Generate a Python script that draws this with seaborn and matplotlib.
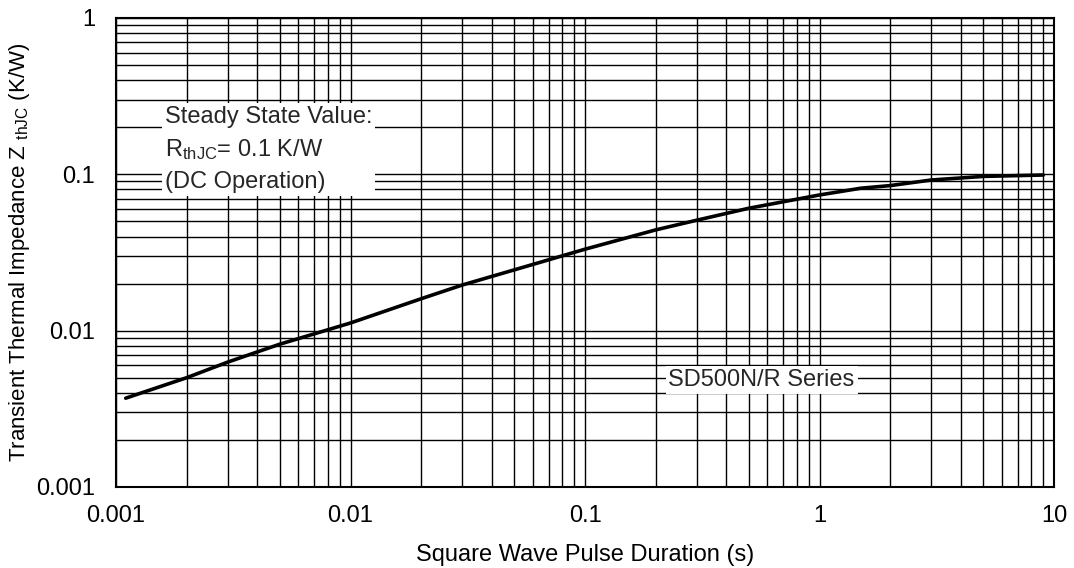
import matplotlib
matplotlib.use("Agg")
import matplotlib.pyplot as plt
import matplotlib.ticker as mticker
import pandas as pd
import seaborn as sns

# pulse duration (s) and transient thermal impedance (K/W)
pulse_s = [0.0011, 0.002, 0.003, 0.005, 0.006, 0.01, 0.02, 0.03, 0.05, 0.1,
           0.2, 0.3, 0.5, 1.0, 1.5, 2.0, 3.0, 5.0, 9.0]
zth_kw = [0.0037, 0.0050, 0.0063, 0.0082, 0.0089, 0.0112, 0.0160, 0.0196, 0.0245, 0.0332,
          0.0441, 0.0509, 0.0607, 0.0738, 0.0815, 0.0847, 0.0920, 0.0970, 0.0990]

x_ticks = [0.001, 0.01, 0.1, 1, 10]
x_tick_labels = ["0.001", "0.01", "0.1", "1", "10"]
y_ticks = [0.001, 0.01, 0.1, 1]
y_tick_labels = ["0.001", "0.01", "0.1", "1"]

FS = 17


def setup_style() -> None:
    sns.set_style("white")
    plt.rcParams["font.family"] = ["Liberation Sans", "DejaVu Sans"]
    plt.rcParams["mathtext.fontset"] = "custom"
    plt.rcParams["mathtext.rm"] = "Liberation Sans"
    plt.rcParams["mathtext.it"] = "Liberation Sans"
    plt.rcParams["mathtext.default"] = "rm"
    plt.rcParams["axes.unicode_minus"] = False


def main() -> None:
    setup_style()
    curve = pd.DataFrame({"Pulse": pulse_s, "Zth": zth_kw})

    fig = plt.figure(figsize=(10.74, 5.68), dpi=100)
    ax = fig.add_axes([116 / 1074, 1 - 487 / 568, 938 / 1074, 469 / 568])

    ax.set_xscale("log")
    ax.set_yscale("log")
    ax.set_xlim(0.001, 10)
    ax.set_ylim(0.001, 1)

    ax.xaxis.set_minor_locator(mticker.LogLocator(base=10, subs=range(2, 10), numticks=50))
    ax.yaxis.set_minor_locator(mticker.LogLocator(base=10, subs=range(2, 10), numticks=50))
    ax.grid(which="both", color="black", linewidth=1.0)
    ax.set_axisbelow(True)

    sns.lineplot(data=curve, x="Pulse", y="Zth", ax=ax, color="black", linewidth=2.6, zorder=3)

    ax.xaxis.set_major_locator(mticker.FixedLocator(x_ticks))
    ax.xaxis.set_major_formatter(mticker.FixedFormatter(x_tick_labels))
    ax.yaxis.set_major_locator(mticker.FixedLocator(y_ticks))
    ax.yaxis.set_major_formatter(mticker.FixedFormatter(y_tick_labels))
    ax.xaxis.set_minor_formatter(mticker.NullFormatter())
    ax.yaxis.set_minor_formatter(mticker.NullFormatter())
    ax.tick_params(which="both", length=0, labelsize=FS, colors="black")
    ax.tick_params(axis="x", pad=13)
    ax.tick_params(axis="y", pad=15)

    for spine in ax.spines.values():
        spine.set_color("black")
        spine.set_linewidth(1.5)

    ax.set_xlabel("Square Wave Pulse Duration (s)", fontsize=FS, labelpad=12, color="black")
    ax.set_ylabel(r"Transient Thermal Impedance Z $_{\rm thJC}$ (K/W)", fontsize=16,
                  labelpad=3, color="black")

    box = {"boxstyle": "square,pad=0.12", "facecolor": "white", "edgecolor": "none"}
    ax.text(0.052, 0.72,
            "Steady State Value:\n" + r"R$_{\rm thJC}$= 0.1 K/W" + "\n(DC Operation)",
            transform=ax.transAxes, fontsize=FS, va="center", ha="left",
            linespacing=1.5, bbox=box, zorder=4)
    ax.text(0.589, 0.228, "SD500N/R Series", transform=ax.transAxes, fontsize=FS,
            va="center", ha="left", bbox=box, zorder=4)

    fig.savefig("out.png", dpi=100)
    plt.close(fig)


if __name__ == "__main__":
    main()
